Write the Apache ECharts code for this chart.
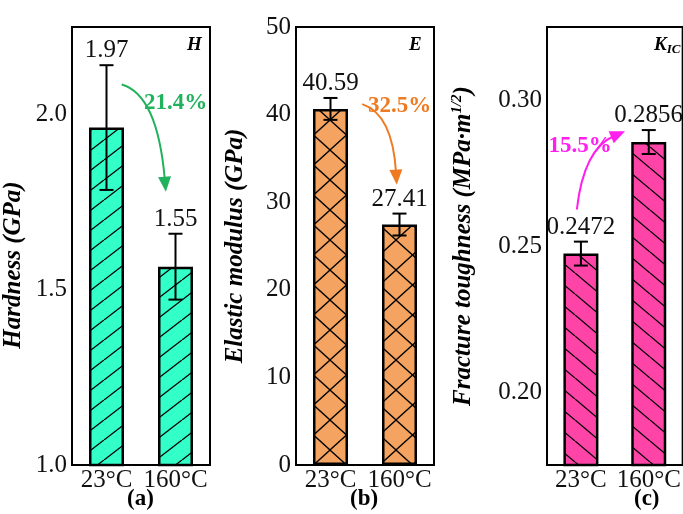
<!DOCTYPE html>
<html>
<head>
<meta charset="utf-8">
<script src="https://cdn.jsdelivr.net/npm/echarts@6/dist/echarts.min.js"></script>
<style>
  html, body { margin: 0; padding: 0; background: #fff; }
  #main { width: 683px; height: 514px; }
</style>
</head>
<body>
<div id="main"></div>
<script>
// data
const categories = ['23°C', '160°C'];

const hardness = [1.963, 1.566];
const hardnessErr = [0.178, 0.094];
const hardnessText = ['1.97', '1.55'];
const hardnessTicks = ['1.0', '1.5', '2.0'];

const modulus = [40.65, 27.45];
const modulusErr = [1.25, 1.25];
const modulusText = ['40.59', '27.41'];
const modulusTicks = ['0', '10', '20', '30', '40', '50'];

const toughness = [0.2474, 0.2856];
const toughnessErr = [0.0041, 0.0041];
const toughnessText = ['0.2472', '0.2856'];
const toughnessTicks = ['0.20', '0.25', '0.30'];

const changeText = ['21.4%', '32.5%', '15.5%'];

const serif = "'Liberation Serif', 'Times New Roman', serif";

function hatch(fill, w, h, kind) {
    const c = document.createElement('canvas');
    c.width = w; c.height = h;
    const g = c.getContext('2d');
    g.fillStyle = fill;
    g.fillRect(0, 0, w, h);
    g.strokeStyle = '#000';
    g.lineWidth = 1.3;
    const seg = (x0, y0, x1, y1) => { g.beginPath(); g.moveTo(x0, y0); g.lineTo(x1, y1); g.stroke(); };
    for (const dx of [-w, 0, w]) {
        if (kind === '/' || kind === 'x') seg(dx, h, dx + w, 0);
        if (kind === '\\' || kind === 'x') seg(dx, 0, dx + w, h);
    }
    return { image: c, repeat: 'repeat' };
}

const chart = echarts.init(document.getElementById('main'));

function errBars(errs, texts) {
    return function (params, api) {
        const i = params.dataIndex;
        const v = api.value(1);
        const e = errs[i];
        const top = api.coord([i, v + e]);
        const bot = api.coord([i, v - e]);
        const x = top[0], cap = 7;
        const st = { stroke: '#000', lineWidth: 2 };
        return {
            type: 'group',
            children: [
                { type: 'line', shape: { x1: x, y1: top[1], x2: x, y2: bot[1] }, style: st },
                { type: 'line', shape: { x1: x - cap, y1: top[1], x2: x + cap, y2: top[1] }, style: st },
                { type: 'line', shape: { x1: x - cap, y1: bot[1], x2: x + cap, y2: bot[1] }, style: st },
                { type: 'text', x: x, y: top[1] - 2,
                  style: { text: texts[i], align: 'center', verticalAlign: 'bottom',
                           font: '25px ' + serif, fill: '#111' } }
            ]
        };
    };
}

// curved arrow, points given as [fraction between the two bars, value]
function arrow(spec) {
    return function (params, api) {
        const px = p => {
            const a = api.coord([0, p[1]]), b = api.coord([1, p[1]]);
            return [a[0] + (b[0] - a[0]) * p[0], a[1]];
        };
        const s = px(spec.from), c = px(spec.ctrl), t = px(spec.to), lp = px(spec.textAt);
        let dx = t[0] - c[0], dy = t[1] - c[1];
        const len = Math.sqrt(dx * dx + dy * dy);
        dx /= len; dy /= len;
        const L = 15, W = 6.5;
        const bx = t[0] - dx * L, by = t[1] - dy * L;
        return {
            type: 'group',
            children: [
                { type: 'bezierCurve',
                  shape: { x1: s[0], y1: s[1], x2: bx + dx * 3, y2: by + dy * 3, cpx1: c[0], cpy1: c[1] },
                  style: { stroke: spec.color, lineWidth: 2, fill: null } },
                { type: 'polygon',
                  shape: { points: [t, [bx - dy * W, by + dx * W], [bx + dy * W, by - dx * W]] },
                  style: { fill: spec.color } },
                { type: 'text', x: lp[0], y: lp[1],
                  style: { text: spec.text, align: 'center', verticalAlign: 'middle',
                           font: 'bold 23px ' + serif, fill: spec.color } }
            ]
        };
    };
}

const grids = [
    { left: 71, top: 27, width: 139, height: 438 },
    { left: 296, top: 27, width: 138, height: 438 },
    { left: 547, top: 27, width: 139, height: 438 }
].map(g => Object.assign(g, { show: true, borderColor: '#000', borderWidth: 2, backgroundColor: '#fff' }));

const xAxes = [0, 1, 2].map(i => ({
    type: 'category', gridIndex: i, data: categories,
    axisLine: { lineStyle: { color: '#000', width: 2 } },
    axisTick: { inside: true, alignWithLabel: true, length: 4, lineStyle: { color: '#000', width: 1.5 } },
    axisLabel: { color: '#111', fontSize: 25, fontFamily: serif, margin: 3, interval: 0, hideOverlap: false },
    splitLine: { show: false }
}));

function yAxis(i, name, min, max, step, ticks, gap, digits, pad) {
    return {
        type: 'value', gridIndex: i, min: min, max: max, interval: step,
        name: name, nameLocation: 'middle', nameGap: gap,
        nameTextStyle: { fontSize: 25, fontFamily: serif, fontWeight: 'bold', fontStyle: 'italic',
                         color: '#000', padding: pad || 0, rich: {
                             sup: { fontSize: 15, fontFamily: serif, fontWeight: 'bold', fontStyle: 'italic',
                                    verticalAlign: 'top', padding: [0, 0, 12, 0] } } },
        axisLine: { show: true, lineStyle: { color: '#000', width: 2 } },
        axisTick: { inside: true, length: 4, lineStyle: { color: '#000', width: 1.5 } },
        axisLabel: { color: '#111', fontSize: 25, fontFamily: serif, margin: 5,
                     formatter: v => {
                         const s = v.toFixed(digits);
                         return ticks.indexOf(s) >= 0 ? s : '';
                     } },
        splitLine: { show: false }
    };
}

const yAxes = [
    yAxis(0, 'Hardness (GPa)', 1.0, 2.25, 0.25, hardnessTicks, 46, 1, [0, 38, 0, 0]),
    yAxis(1, 'Elastic modulus (GPa)', 0, 50, 5, modulusTicks, 48, 0),
    yAxis(2, 'Fracture toughness (MPa·m{sup|1/2})', 0.175, 0.325, 0.025, toughnessTicks, 70, 2)
];

const fills = [
    hatch('#33FFC8', 26, 20, '/'),
    hatch('#F4A460', 33, 30, 'x'),
    hatch('#FF44A8', 25, 21, '\\')
];

const values = [hardness, modulus, toughness];
const errs = [hardnessErr, modulusErr, toughnessErr];
const texts = [hardnessText, modulusText, toughnessText];

const arrows = [
    { from: [0.22, 2.086], ctrl: [0.74, 2.057], to: [0.86, 1.78], textAt: [1.0, 2.034],
      text: changeText[0], color: '#20B25C', mid: 1.5 },
    { from: [0.46, 41.2], ctrl: [0.9, 40.05], to: [0.96, 32.0], textAt: [1.0, 40.96],
      text: changeText[1], color: '#EE7B22', mid: 25 },
    { from: [-0.06, 0.2625], ctrl: [0.04, 0.2832], to: [0.65, 0.2893], textAt: [-0.01, 0.2842],
      text: changeText[2], color: '#FF1EEE', mid: 0.25 }
];

const series = [];
[0, 1, 2].forEach(i => {
    series.push({
        type: 'bar', xAxisIndex: i, yAxisIndex: i, data: values[i], barWidth: 35,
        itemStyle: { color: fills[i], borderColor: '#000', borderWidth: 2.5 },
        silent: true, z: 2
    });
    series.push({
        type: 'custom', xAxisIndex: i, yAxisIndex: i, z: 4, silent: true,
        data: values[i].map((v, k) => [k, v]),
        renderItem: errBars(errs[i], texts[i])
    });
    series.push({
        type: 'custom', xAxisIndex: i, yAxisIndex: i, z: 5, silent: true, clip: false,
        data: [[0, arrows[i].mid]],
        renderItem: arrow(arrows[i])
    });
});

const corner = (x, text) => ({
    type: 'text', left: x, top: 36,
    style: { text: text, font: 'bold italic 19px ' + serif, fill: '#000',
             rich: { sub: { fontSize: 13, fontFamily: serif, fontWeight: 'bold', fontStyle: 'italic',
                            padding: [8, 0, 0, 0] } } }
});
const panelTag = (x, text) => ({
    type: 'text', left: x, top: 488,
    style: { text: text, font: 'bold 23px ' + serif, fill: '#000' }
});

chart.setOption({
    backgroundColor: '#fff',
    animation: false,
    grid: grids,
    xAxis: xAxes,
    yAxis: yAxes,
    series: series,
    graphic: [
        corner(187, 'H'),
        corner(409, 'E'),
        corner(654, 'K{sub|IC}'),
        panelTag(127, '(a)'),
        panelTag(350, '(b)'),
        panelTag(634, '(c)')
    ]
});
</script>
</body>
</html>
